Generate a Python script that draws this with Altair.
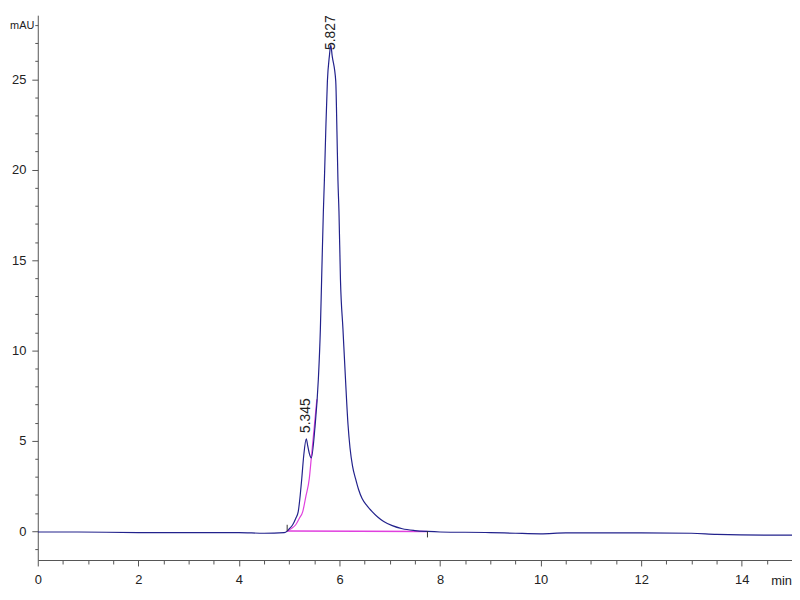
import pandas as pd
import altair as alt

# chromatogram trace (retention time in min, signal in mAU)
trace_time = [0.0, 0.8, 2.0, 3.0, 4.0, 4.5, 4.9, 4.96, 5.0, 5.07, 5.13, 5.18, 5.22, 5.25,
              5.29, 5.34, 5.37, 5.40, 5.44, 5.51, 5.58, 5.62, 5.645, 5.68, 5.70, 5.727,
              5.76, 5.80, 5.827, 5.855, 5.926, 5.95, 5.97, 5.99, 6.02, 6.07, 6.12,
              6.17, 6.21, 6.26, 6.32, 6.38, 6.45, 6.55, 6.65, 6.76, 6.88, 7.05, 7.25,
              7.5, 7.75, 8.0, 9.0, 9.5, 10.0, 10.5, 12.0, 13.0, 13.5, 14.5, 15.0]
trace_mau = [-0.05, -0.05, -0.08, -0.08, -0.08, -0.12, -0.08, 0.0, 0.12, 0.35, 0.7, 1.08, 2.0, 2.9,
             4.2, 5.1, 4.7, 4.3, 4.05, 5.66, 8.4, 11.15, 13.9, 17.7, 19.4, 22.1,
             24.9, 26.3, 26.9, 26.3, 24.9, 22.1, 19.4, 17.7, 13.9, 11.15, 8.4,
             5.9, 4.6, 3.6, 2.9, 2.3, 1.8, 1.4, 1.08, 0.78, 0.53, 0.3, 0.13,
             0.03, -0.02, -0.05, -0.08, -0.12, -0.15, -0.1, -0.1, -0.12, -0.18, -0.22, -0.22]

# integration skim curve under the shoulder
skim_time = [4.96, 5.05, 5.13, 5.2, 5.27, 5.33, 5.40, 5.44, 5.50, 5.55]
skim_mau = [0.0, 0.15, 0.35, 0.7, 1.08, 1.9, 2.9, 4.05, 5.8, 7.3]

# integration baseline
base_time = [4.96, 7.75]
base_mau = [0.0, -0.02]

# integration start / end markers
marker_time = [4.96, 7.75]
marker_lo = [0.0, -0.35]
marker_hi = [0.35, 0.0]

# peak labels
peak_time = [5.345, 5.827]
peak_height = [5.1, 26.9]
peak_label = ["5.345", "5.827"]
peak_shift = [6, -5]

trace = pd.DataFrame({"t": trace_time, "v": trace_mau})
skim = pd.DataFrame({"t": skim_time, "v": skim_mau})
base = pd.DataFrame({"t": base_time, "v": base_mau})
markers = pd.DataFrame({"t": marker_time, "v": marker_lo, "v2": marker_hi})
peaks = pd.DataFrame({"t": peak_time, "v": peak_height, "label": peak_label})

FONT = "Liberation Sans"

x_enc = alt.X(
    "t:Q",
    scale=alt.Scale(domain=[0, 15], nice=False, zero=False),
    axis=alt.Axis(
        values=[i * 0.5 for i in range(30)],
        format="~g",
        labelExpr="datum.value % 2 === 0 ? datum.label : ''",
        tickSize={"condition": {"test": "datum.value % 2 === 0", "value": 6}, "value": 4},
        grid=False, labelFlush=False, labelOverlap=False, labelPadding=8,
        title="min", titleAngle=0, titleAnchor="end", titleAlign="center",
        titleBaseline="middle", titleX=749, titleY=21, titleFontWeight="normal",
    ),
)
y_enc = alt.Y(
    "v:Q",
    scale=alt.Scale(domain=[-1.6, 28.55], nice=False, zero=False),
    axis=alt.Axis(
        values=list(range(-1, 29)),
        labelExpr="datum.value % 5 === 0 ? datum.label : ''",
        tickSize={"condition": {"test": "datum.value % 5 === 0", "value": 6}, "value": 3},
        grid=False, labelOverlap=False, labelPadding=6,
        title="mAU", titleAngle=0, titleAlign="right", titleBaseline="middle",
        titleX=-4, titleY=10, titleFontWeight="normal", titleFontSize=11,
    ),
)

trace_line = alt.Chart(trace).mark_line(
    color="#22228c", strokeWidth=1.2, clip=True, interpolate="monotone"
).encode(x=x_enc, y=y_enc)
skim_line = alt.Chart(skim).mark_line(
    color="#e040de", strokeWidth=1.2, interpolate="monotone"
).encode(x=x_enc, y=y_enc)
base_line = alt.Chart(base).mark_line(color="#e040de", strokeWidth=1.5).encode(x=x_enc, y=y_enc)
marker_rules = alt.Chart(markers).mark_rule(color="#333", strokeWidth=1).encode(
    x=x_enc, y=y_enc, y2="v2:Q"
)

# per-label offsets along the rotated text direction
label_layers = [
    alt.Chart(peaks[peaks["label"] == lab]).mark_text(
        angle=270, align="left", baseline="middle", font=FONT, fontSize=14, color="#222", dx=sh
    ).encode(x=x_enc, y=y_enc, text="label:N")
    for lab, sh in zip(peak_label, peak_shift)
]

chart = alt.layer(base_line, skim_line, trace_line, marker_rules, *label_layers).properties(
    width=760,
    height=549,
    padding={"left": 30, "top": 5, "right": 0, "bottom": 30},
    autosize=alt.AutoSizeParams(type="none"),
).configure_view(stroke=None).configure_axis(
    domainColor="#555", tickColor="#555", labelColor="#222", titleColor="#222",
    labelFont=FONT, titleFont=FONT, labelFontSize=13, titleFontSize=13,
)

chart.save("out.html", embed_options={"renderer": "svg", "actions": False})
